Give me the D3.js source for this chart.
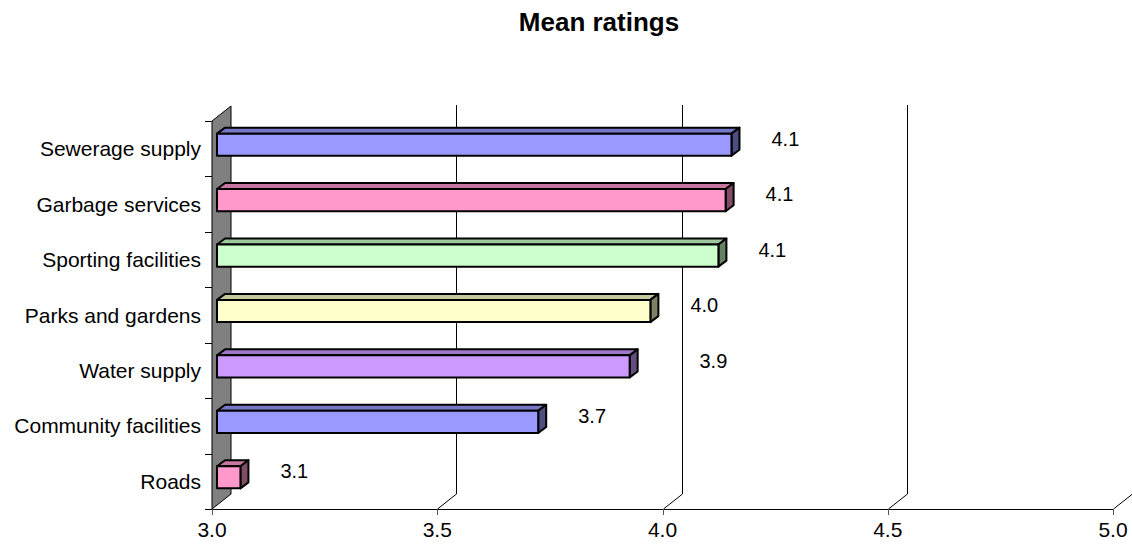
<!DOCTYPE html>
<html>
<head>
<meta charset="utf-8">
<script src="https://cdn.jsdelivr.net/npm/d3@7/dist/d3.min.js"></script>
<style>
  html, body { margin: 0; padding: 0; background: #fff; }
  svg { display: block; font-family: "Liberation Sans", Arial, sans-serif; }
</style>
</head>
<body>
<svg id="chart" width="1132" height="544"></svg>
<script>
// Mean rating per service, top to bottom
const categories = ["Sewerage supply", "Garbage services", "Sporting facilities",
                    "Parks and gardens", "Water supply", "Community facilities", "Roads"];
const values = [4.142, 4.129, 4.113, 3.962, 3.916, 3.713, 3.052];
const barColors = ["#9999FF", "#FF99CC", "#CCFFCC", "#FFFFCC", "#CC99FF", "#9999FF", "#FF99CC"];
const xTicks = [3.0, 3.5, 4.0, 4.5, 5.0];
const title = "Mean ratings";

const svg = d3.select("#chart");

// Plot frame (front plane) and 3-D depth vector of the back wall
const plotLeft = 212, plotRight = 1113, plotTop = 121, plotBottom = 509;
const depth = [19, -15];
// Bars sit partway into the depth
const barFront = [5, -4], barDepth = [8, -6];

const x = d3.scaleLinear().domain([3, 5]).range([plotLeft, plotRight]);
const y = d3.scaleBand().domain(categories).range([plotTop, plotBottom]);
const barH = y.bandwidth() * 0.4;

const line = d3.line();

// Title
svg.append("text")
  .attr("x", 599).attr("y", 31)
  .attr("text-anchor", "middle")
  .attr("font-size", 26).attr("font-weight", "bold")
  .text(title);

// Gray side wall
svg.append("path")
  .attr("d", line([[plotLeft, plotTop], [plotLeft + depth[0], plotTop + depth[1]],
                   [plotLeft + depth[0], plotBottom + depth[1]], [plotLeft, plotBottom]]) + "Z")
  .attr("fill", "#808080").attr("stroke", "#000").attr("stroke-width", 1);

// Value gridlines: floor diagonal + back-wall vertical
const grid = svg.append("g").attr("fill", "none").attr("stroke", "#000").attr("stroke-width", 1);
const backGridX = [];
xTicks.filter(t => t > 3).forEach(t => {
  const gx = Math.round(x(t)) + 0.5;
  backGridX.push(gx + depth[0]);
  grid.append("path").attr("d", line([
    [gx, plotBottom], [gx + depth[0], plotBottom + depth[1]], [gx + depth[0], plotTop + depth[1] - 1]
  ]));
});

// Bottom axis line and ticks
svg.append("line")
  .attr("x1", plotLeft).attr("x2", plotRight).attr("y1", plotBottom + 0.5).attr("y2", plotBottom + 0.5)
  .attr("stroke", "#000");
const xAxis = svg.append("g");
xTicks.forEach(t => {
  const tx = Math.round(x(t)) + 0.5;
  xAxis.append("line").attr("x1", tx).attr("x2", tx)
    .attr("y1", plotBottom).attr("y2", plotBottom + 6).attr("stroke", "#555");
  xAxis.append("text")
    .attr("x", x(t)).attr("y", plotBottom + 28)
    .attr("text-anchor", "middle").attr("font-size", 21)
    .text(d3.format(".1f")(t));
});

// Category axis ticks at band boundaries
const yAxis = svg.append("g");
for (let i = 0; i <= categories.length; i++) {
  const ty = Math.round(plotTop + i * y.step()) + 0.5;
  yAxis.append("line").attr("x1", plotLeft - 7).attr("x2", plotLeft)
    .attr("y1", ty).attr("y2", ty).attr("stroke", "#000");
}
categories.forEach(c => {
  yAxis.append("text")
    .attr("x", 201).attr("y", y(c) + y.bandwidth() / 2)
    .attr("dy", "0.36em")
    .attr("text-anchor", "end").attr("font-size", 21)
    .text(c);
});

// Scale an RGB colour toward black
function shade(col, k) {
  const c = d3.rgb(col);
  return d3.rgb(c.r * k, c.g * k, c.b * k).formatHex();
}

// 3-D bars
const bars = svg.append("g").attr("stroke", "#000").attr("stroke-width", 2)
  .attr("stroke-linejoin", "round");
const labels = svg.append("g").attr("font-size", 20);
categories.forEach((c, i) => {
  const v = values[i];
  const x0 = x(3) + barFront[0];
  const x1 = x(v) + barFront[0];
  const y0 = y(c) + y.bandwidth() / 2 - barH / 2 + barFront[1];
  const y1 = y0 + barH;
  const [dx, dy] = barDepth;
  const col = barColors[i];
  const g = bars.append("g");
  // top face
  g.append("path")
    .attr("d", line([[x0, y0], [x0 + dx, y0 + dy], [x1 + dx, y0 + dy], [x1, y0]]) + "Z")
    .attr("fill", shade(col, 0.78));
  // end face
  g.append("path")
    .attr("d", line([[x1, y0], [x1 + dx, y0 + dy], [x1 + dx, y1 + dy], [x1, y1]]) + "Z")
    .attr("fill", shade(col, 0.5));
  // front face
  g.append("rect")
    .attr("x", x0).attr("y", y0).attr("width", x1 - x0).attr("height", barH)
    .attr("fill", col);

  // value label, nudged past any back-wall gridline it would sit on
  const lbl = labels.append("text")
    .attr("y", y0 + barH / 2 - 6)
    .attr("dy", "0.36em")
    .text(d3.format(".1f")(v));
  let lx = x1 + 40;
  const w = lbl.node().getComputedTextLength();
  backGridX.forEach(gx => {
    if (lx < gx + 4 && lx + w > gx - 4) lx = gx + 17;
  });
  lbl.attr("x", lx);
});
</script>
</body>
</html>
